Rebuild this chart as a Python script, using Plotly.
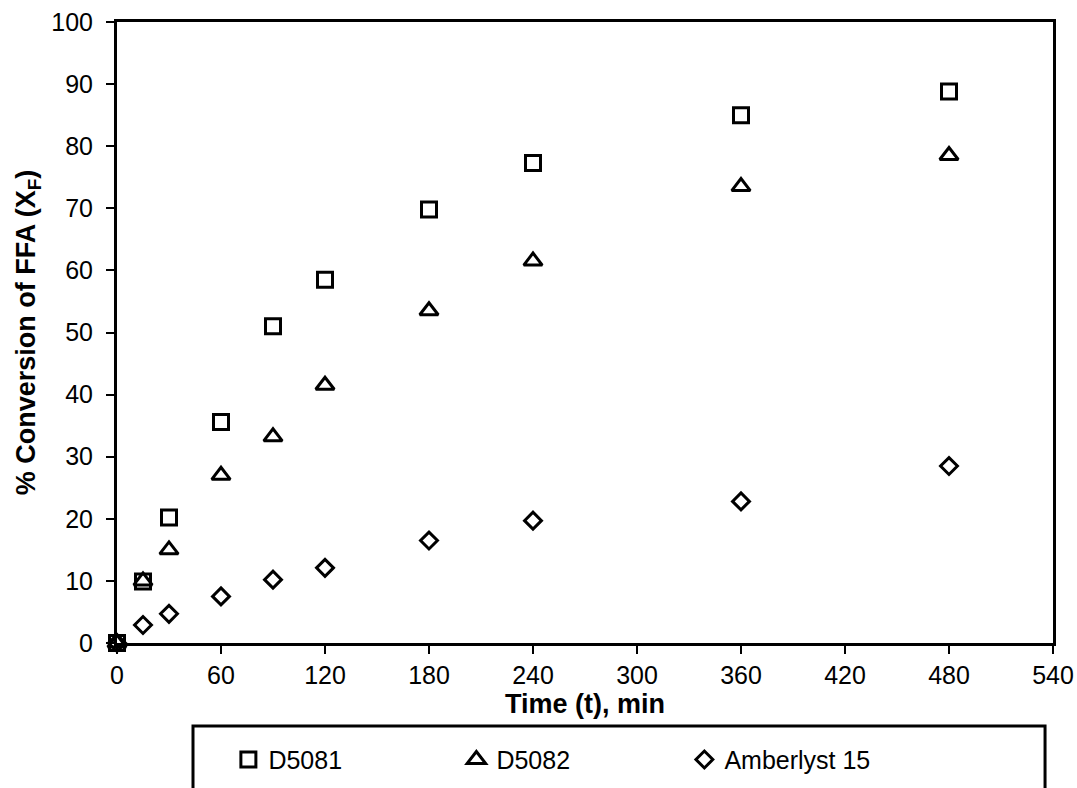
import plotly.graph_objects as go

time_min = [0, 15, 30, 60, 90, 120, 180, 240, 360, 480]
d5081 = [0, 9.9, 20.2, 35.6, 51.0, 58.5, 69.8, 77.3, 85.0, 88.8]
d5082 = [0, 10.0, 15.0, 27.0, 33.2, 41.5, 53.5, 61.5, 73.5, 78.5]
amberlyst = [0, 2.9, 4.7, 7.5, 10.2, 12.1, 16.5, 19.7, 22.8, 28.5]

series_names = ["D5081", "D5082", "Amberlyst 15"]
x_ticks = [0, 60, 120, 180, 240, 300, 360, 420, 480, 540]
y_ticks = [0, 10, 20, 30, 40, 50, 60, 70, 80, 90, 100]

FONT = "Liberation Sans, Arial, sans-serif"

fig = go.Figure()
fig.add_trace(go.Scatter(x=time_min, y=d5081, mode="markers", name=series_names[0],
                         marker=dict(symbol="square-open", size=15, color="black",
                                     line=dict(width=3, color="black")), cliponaxis=False))
fig.add_trace(go.Scatter(x=time_min, y=d5082, mode="markers", name=series_names[1],
                         marker=dict(symbol="triangle-up-open", size=16, color="black",
                                     line=dict(width=3, color="black")), cliponaxis=False))
fig.add_trace(go.Scatter(x=time_min, y=amberlyst, mode="markers", name=series_names[2],
                         marker=dict(symbol="diamond-open", size=13, color="black",
                                     line=dict(width=3, color="black")), cliponaxis=False))

# legend frame (extends below the figure as in the reference)
fig.add_shape(type="rect", xref="paper", yref="paper",
              x0=0.0812, x1=0.9915, y0=-0.1337, y1=-0.40,
              line=dict(color="black", width=3), fillcolor="rgba(0,0,0,0)", layer="above")

fig.update_layout(
    width=1077, height=788,
    margin=dict(l=117, r=24, t=22, b=145, autoexpand=False),
    paper_bgcolor="white", plot_bgcolor="white",
    font=dict(family=FONT, color="black", size=25),
    showlegend=True,
    legend=dict(orientation="h", x=0.119, xanchor="left", y=-0.188, yanchor="middle",
                entrywidth=183, entrywidthmode="pixels",
                font=dict(family=FONT, size=25, color="black"),
                bgcolor="rgba(0,0,0,0)", borderwidth=0, itemclick=False),
    xaxis=dict(range=[0, 540], tickmode="array", tickvals=x_ticks, automargin=False,
               showline=True, linecolor="black", linewidth=3, mirror=True,
               ticks="outside", ticklen=8, tickwidth=2, tickcolor="black",
               showgrid=False, zeroline=False, ticklabelstandoff=0,
               tickfont=dict(family=FONT, size=25, color="black"),
               title=dict(text="<b>Time (t), min</b>", standoff=0,
                          font=dict(family=FONT, size=27, color="black"))),
    yaxis=dict(range=[0, 100], tickmode="array", tickvals=y_ticks, automargin=False,
               showline=True, linecolor="black", linewidth=3, mirror=True,
               ticks="outside", ticklen=8, tickwidth=2, tickcolor="black",
               showgrid=False, zeroline=False, ticklabelstandoff=8,
               tickfont=dict(family=FONT, size=25, color="black"),
               title=dict(text="<b>% Conversion of FFA (X<sub>F</sub>)</b>", standoff=8,
                          font=dict(family=FONT, size=27, color="black"))),
)

fig.write_html("out.html")
